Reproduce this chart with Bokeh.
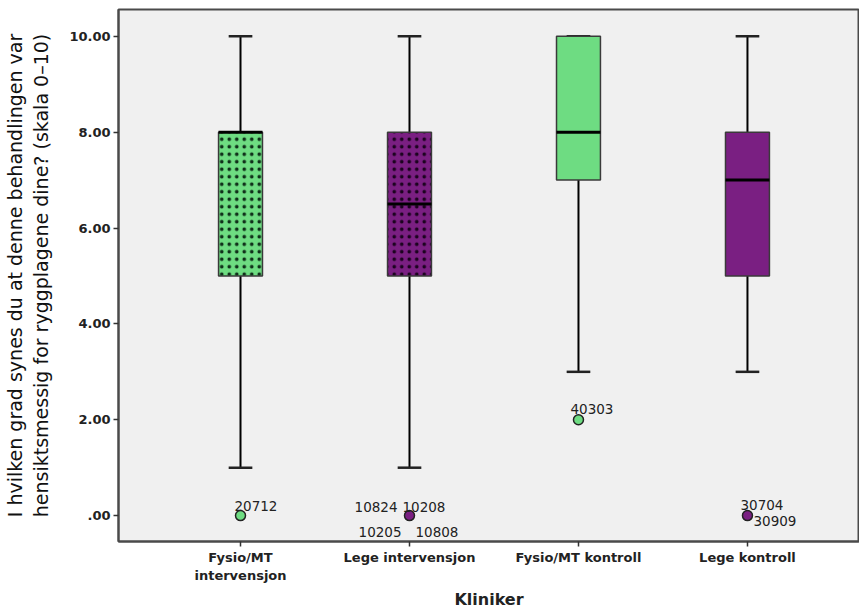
from bokeh.plotting import figure
from bokeh.models import FixedTicker, ColumnDataSource
from bokeh.embed import file_html
from bokeh.resources import INLINE
from bokeh.core.properties import value

# Groups and box statistics (scale 0-10)
groups = ["Fysio/MT\nintervensjon", "Lege intervensjon", "Fysio/MT kontroll", "Lege kontroll"]
whisker_low = [1, 1, 3, 3]
q1 = [5, 5, 7, 5]
median = [8, 6.5, 8, 7]
q3 = [8, 8, 10, 8]
whisker_high = [10, 10, 10, 10]
colors = ["#6edc82", "#7a1f82", "#6edc82", "#7a1f82"]
hatch_colors = ["#10301a", "#1c0320", None, None]

# Outlying cases: group index, value, case id
out_group = [1, 2, 3, 4]
out_value = [0, 0, 2, 0]

lab_group = [1, 2, 2, 2, 2, 3, 4, 4]
lab_value = [0, 0, 0, 0, 0, 2, 0, 0]
lab_text = ["20712", "10824", "10208", "10205", "10808", "40303", "30704", "30909"]
lab_dx = [-6, -12, -7, -8, 6, -8, -7, 6]
lab_dy = [-10, -9, -9, 16, 16, -11, -11, 5]
lab_align = ["left", "right", "left", "right", "left", "left", "left", "left"]

xs = list(range(1, len(groups) + 1))
box_w = 0.26
cap_w = 0.14

p = figure(width=859, height=611, output_backend="svg", toolbar_location=None,
           x_range=(0.278, 4.663), y_range=(-0.54, 10.56),
           min_border_left=118, min_border_right=0, min_border_top=9, min_border_bottom=70)

p.background_fill_color = "#f0f0f0"
p.border_fill_color = "white"
p.outline_line_color = "#4a4a4a"
p.outline_line_width = 2
p.xgrid.visible = False
p.ygrid.visible = False

# Whiskers
p.segment(x0=xs, y0=whisker_low, x1=xs, y1=q1, line_color="black", line_width=2)
p.segment(x0=xs, y0=q3, x1=xs, y1=whisker_high, line_color="black", line_width=2)
p.segment(x0=[x - cap_w / 2 for x in xs], y0=whisker_low, x1=[x + cap_w / 2 for x in xs],
          y1=whisker_low, line_color="#222222", line_width=2.5)
p.segment(x0=[x - cap_w / 2 for x in xs], y0=whisker_high, x1=[x + cap_w / 2 for x in xs],
          y1=whisker_high, line_color="#222222", line_width=2.5)

# Boxes (intervention groups carry a pattern)
for i, x in enumerate(xs):
    kw = {}
    if hatch_colors[i]:
        kw = dict(hatch_pattern="dot", hatch_color=hatch_colors[i], hatch_scale=7.5,
                  hatch_weight=2, hatch_alpha=1.0)
    p.quad(left=x - box_w / 2, right=x + box_w / 2, bottom=q1[i], top=q3[i],
           fill_color=colors[i], line_color="#3a3a3a", line_width=1.5, **kw)

# Medians
p.segment(x0=[x - box_w / 2 for x in xs], y0=median, x1=[x + box_w / 2 for x in xs],
          y1=median, line_color="black", line_width=3)

# Outliers
p.scatter(x=out_group, y=out_value, size=10, marker="circle",
          fill_color=[colors[g - 1] for g in out_group], line_color="#222222", line_width=1.5)

lab_src = ColumnDataSource(dict(x=lab_group, y=lab_value, text=lab_text, dx=lab_dx,
                                dy=lab_dy, align=lab_align))
p.text(x="x", y="y", text="text", x_offset="dx", y_offset="dy", text_align="align",
       source=lab_src, text_font=value("DejaVu Sans"), text_font_size="13.5px",
       text_color="#222222", text_baseline="alphabetic")

# Axes
p.xaxis.ticker = FixedTicker(ticks=xs)
p.xaxis.major_label_overrides = {x: g for x, g in zip(xs, groups)}
p.yaxis.ticker = FixedTicker(ticks=[0, 2, 4, 6, 8, 10])
p.yaxis.major_label_overrides = {0: ".00", 2: "2.00", 4: "4.00", 6: "6.00", 8: "8.00", 10: "10.00"}

for ax in (p.xaxis[0], p.yaxis[0]):
    ax.axis_line_color = "#4a4a4a"
    ax.axis_line_width = 2
    ax.major_tick_line_color = "#333333"
    ax.major_tick_line_width = 1.5
    ax.major_tick_out = 5
    ax.major_tick_in = 0
    ax.minor_tick_line_color = None
    ax.major_label_text_font = "DejaVu Sans"
    ax.major_label_text_font_style = "bold"
    ax.major_label_text_font_size = "13px"
    ax.major_label_text_color = "#222222"
    ax.major_label_standoff = 3

p.xaxis.axis_label = "Kliniker"
p.xaxis.axis_label_text_font = "DejaVu Sans"
p.xaxis.axis_label_text_font_style = "bold"
p.xaxis.axis_label_text_font_size = "16px"
p.xaxis.axis_label_text_color = "#222222"
p.xaxis.axis_label_standoff = 4

p.yaxis.axis_label = ("I hvilken grad synes du at denne behandlingen var\n"
                      "hensiktsmessig for ryggplagene dine? (skala 0\u201310)")
p.yaxis.axis_label_text_font = "DejaVu Sans"
p.yaxis.axis_label_text_font_style = "normal"
p.yaxis.axis_label_text_font_size = "19px"
p.yaxis.axis_label_text_color = "#111111"
p.yaxis.axis_label_standoff = 14

open("out.html", "w").write(file_html(p, INLINE))
